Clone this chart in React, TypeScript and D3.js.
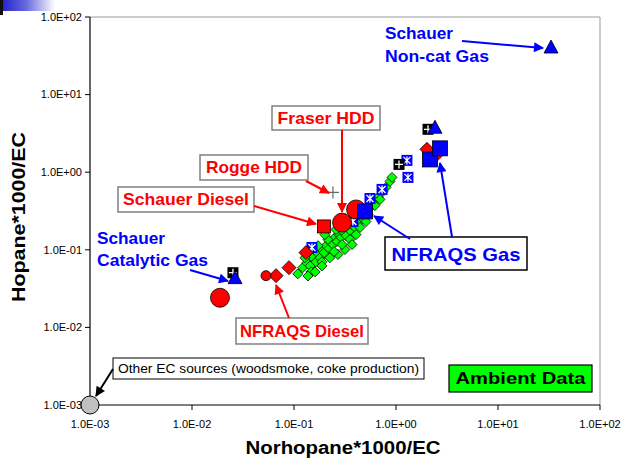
import React from "react";
import * as d3 from "d3";

const W = 625;
const H = 459;

const tickValues = [1e-3, 1e-2, 1e-1, 1e0, 1e1, 1e2];
const tickLabels = ["1.0E-03", "1.0E-02", "1.0E-01", "1.0E+00", "1.0E+01", "1.0E+02"];

// Ambient samples (norhopane, hopane), per 1000 EC
const ambientData: [number, number][] = [
  [0.109, 0.049], [0.122, 0.059], [0.134, 0.068], [0.144, 0.062], [0.153, 0.079],
  [0.164, 0.070], [0.172, 0.089], [0.180, 0.079], [0.188, 0.10], [0.197, 0.092],
  [0.206, 0.113], [0.220, 0.104], [0.225, 0.128], [0.241, 0.117], [0.252, 0.144],
  [0.264, 0.128], [0.276, 0.157], [0.289, 0.144], [0.302, 0.172], [0.324, 0.152],
  [0.338, 0.194], [0.354, 0.177], [0.371, 0.212], [0.396, 0.194], [0.406, 0.245],
  [0.424, 0.218], [0.454, 0.277], [0.474, 0.253], [0.497, 0.312], [0.531, 0.285],
  [0.556, 0.351], [0.582, 0.407], [0.622, 0.372], [0.667, 0.472], [0.697, 0.446],
  [0.746, 0.565], [0.798, 0.637], [0.873, 0.760], [0.914, 0.857], [0.258, 0.182],
  [0.316, 0.231], [0.215, 0.136], [0.172, 0.113], [0.128, 0.079], [0.147, 0.052],
  [0.188, 0.070], [0.316, 0.101], [0.354, 0.136], [0.270, 0.087], [0.225, 0.079],
  [0.188, 0.062], [0.161, 0.052], [0.137, 0.046], [0.406, 0.157], [0.296, 0.117],
  [0.444, 0.194], [0.201, 0.157], [0.247, 0.095], [0.371, 0.117], [0.508, 0.231],
];

// Source profiles
const nfraqsDiesel: [number, number][] = [
  [0.0667, 0.0464], [0.0893, 0.0589], [0.131, 0.092], [2.01, 1.97], [2.52, 1.70],
];
const nfraqsGasStar: [number, number][] = [
  [0.150, 0.107], [0.378, 0.231], [0.556, 0.458], [0.730, 0.600], [1.28, 1.42], [1.31, 0.857],
];
const nfraqsGas: [number, number][] = [[0.497, 0.312], [2.15, 1.46], [2.70, 2.03]];
const dieselCircles: [number, number][] = [[0.0188, 0.0241], [0.296, 0.224], [0.406, 0.331]];
const smallDieselCircles: [number, number][] = [[0.0531, 0.0464]];
const schauerDiesel: [number, number][] = [[0.197, 0.200]];
const gasPlus: [number, number][] = [[0.0252, 0.0507], [1.07, 1.26], [2.06, 3.57]];
const schauerGas: [number, number][] = [[0.0264, 0.0425], [2.41, 3.68], [33.1, 39.8]];
const roggeHDD: [number, number][] = [[0.241, 0.548]];
const otherEC: [number, number][] = [[0.001, 0.001]];

const FONT = "'Liberation Sans', Arial, sans-serif";
const RED = "#ff0000";
const BLUE = "#0000ff";

export default function App() {
  const x = d3.scaleLog().domain([1e-3, 1e2]).range([90, 600]);
  const y = d3.scaleLog().domain([1e-3, 1e2]).range([405, 17]);

  const arrow = (x1: number, y1: number, x2: number, y2: number, color: string, id: string) => (
    <line x1={x1} y1={y1} x2={x2} y2={y2} stroke={color} strokeWidth={2} markerEnd={`url(#${id})`} />
  );

  const boldText = (
    tx: number, ty: number, s: string, color: string, size: number, len: number, anchor = "start"
  ) => (
    <text x={tx} y={ty} fill={color} fontFamily={FONT} fontWeight="bold" fontSize={size}
      textAnchor={anchor} textLength={len} lengthAdjust="spacingAndGlyphs">{s}</text>
  );

  const diamond = (cx: number, cy: number, r: number) =>
    `M${cx},${cy - r}L${cx + r},${cy}L${cx},${cy + r}L${cx - r},${cy}Z`;

  return (
    <svg width={W} height={H} style={{ position: "fixed", left: 0, top: 0, background: "#fff" }}>
      <defs>
        <linearGradient id="corner" x1="0" x2="1" y1="0" y2="0">
          <stop offset="0" stopColor="#2626cc" />
          <stop offset="0.45" stopColor="#6a6ae0" />
          <stop offset="1" stopColor="#ffffff" />
        </linearGradient>
        {[["ahRed", RED], ["ahBlue", BLUE], ["ahBlack", "#000"]].map(([id, c]) => (
          <marker key={id} id={id} viewBox="0 0 10 10" refX="9" refY="5" markerWidth="11" markerHeight="10"
            markerUnits="userSpaceOnUse" orient="auto">
            <path d="M0,0L10,5L0,10Z" fill={c} />
          </marker>
        ))}
      </defs>

      {/* corner ornament */}
      <rect x={3} y={0} width={52} height={11} fill="url(#corner)" />
      <rect x={0} y={0} width={3} height={15} fill="#111" />

      {/* plot frame */}
      <line x1={90} y1={17} x2={600} y2={17} stroke="#999" strokeWidth={1} />
      <line x1={600} y1={17} x2={600} y2={405} stroke="#999" strokeWidth={1} />
      <line x1={90} y1={17} x2={90} y2={405} stroke="#000" strokeWidth={1.2} />
      <line x1={90} y1={405} x2={600} y2={405} stroke="#000" strokeWidth={1.2} />

      {/* y axis ticks */}
      {tickValues.map((v, i) => (
        <g key={`y${i}`}>
          <line x1={85} x2={90} y1={y(v)} y2={y(v)} stroke="#000" />
          <text x={82} y={y(v)} dy="0.35em" textAnchor="end" fontFamily={FONT} fontSize={11} fill="#000">
            {tickLabels[i]}
          </text>
        </g>
      ))}
      {/* x axis ticks */}
      {tickValues.map((v, i) => (
        <g key={`x${i}`}>
          <line x1={x(v)} x2={x(v)} y1={405} y2={410} stroke="#000" />
          <text x={x(v)} y={428} textAnchor="middle" fontFamily={FONT} fontSize={11} fill="#000">
            {tickLabels[i]}
          </text>
        </g>
      ))}

      {/* axis titles */}
      <text x={343} y={454} textAnchor="middle" fontFamily={FONT} fontWeight="bold" fontSize={18}
        textLength={195} lengthAdjust="spacingAndGlyphs">Norhopane*1000/EC</text>
      <text transform="translate(25,217) rotate(-90)" textAnchor="middle" fontFamily={FONT} fontWeight="bold"
        fontSize={18} textLength={170} lengthAdjust="spacingAndGlyphs">Hopane*1000/EC</text>

      {/* ambient data */}
      {ambientData.map(([a, b], i) => (
        <path key={`g${i}`} d={diamond(x(a), y(b), 5)} fill="#00ff00" stroke="#000" strokeWidth={0.8} />
      ))}

      {/* Rogge HDD */}
      {roggeHDD.map(([a, b], i) => (
        <path key={`rg${i}`} d={`M${x(a) - 6},${y(b)}H${x(a) + 6}M${x(a)},${y(b) - 6}V${y(b) + 6}`}
          stroke="#666" strokeWidth={1.2} fill="none" />
      ))}

      {/* NFRAQS gas, starred squares */}
      {nfraqsGasStar.map(([a, b], i) => {
        const cx = x(a), cy = y(b);
        return (
          <g key={`bs${i}`}>
            <rect x={cx - 5.5} y={cy - 5.5} width={11} height={11} fill={BLUE} />
            <path d={`M${cx - 3.5},${cy - 3.5}L${cx + 3.5},${cy + 3.5}M${cx - 3.5},${cy + 3.5}L${cx + 3.5},${cy - 3.5}M${cx},${cy - 4}V${cy + 4}`}
              stroke="#fff" strokeWidth={1.3} />
          </g>
        );
      })}

      {/* NFRAQS diesel */}
      {nfraqsDiesel.map(([a, b], i) => (
        <path key={`rd${i}`} d={diamond(x(a), y(b), 7)} fill={RED} stroke="#000" strokeWidth={0.8} />
      ))}
      {smallDieselCircles.map(([a, b], i) => (
        <circle key={`rc${i}`} cx={x(a)} cy={y(b)} r={5} fill={RED} stroke="#000" strokeWidth={0.8} />
      ))}

      {/* Schauer diesel */}
      {schauerDiesel.map(([a, b], i) => (
        <rect key={`rs${i}`} x={x(a) - 6.5} y={y(b) - 6.5} width={13} height={13} fill={RED} stroke="#000" strokeWidth={0.8} />
      ))}

      {/* diesel circles */}
      {dieselCircles.map(([a, b], i) => (
        <circle key={`rl${i}`} cx={x(a)} cy={y(b)} r={9.5} fill={RED} stroke="#000" strokeWidth={0.8} />
      ))}

      {/* NFRAQS gas squares */}
      {nfraqsGas.map(([a, b], i) => (
        <rect key={`bq${i}`} x={x(a) - 7.5} y={y(b) - 7.5} width={15} height={15} fill={BLUE} stroke="#000" strokeWidth={0.8} />
      ))}

      {/* gas, black plus squares */}
      {gasPlus.map(([a, b], i) => {
        const cx = x(a), cy = y(b);
        return (
          <g key={`kp${i}`}>
            <rect x={cx - 5.5} y={cy - 5.5} width={11} height={11} fill="#000" />
            <path d={`M${cx - 4},${cy}H${cx + 4}M${cx},${cy - 4}V${cy + 4}`} stroke="#fff" strokeWidth={1.3} />
          </g>
        );
      })}

      {/* Schauer gas triangles */}
      {schauerGas.map(([a, b], i) => {
        const cx = x(a), cy = y(b);
        return (
          <path key={`bt${i}`} d={`M${cx},${cy - 8}L${cx + 7},${cy + 5}L${cx - 7},${cy + 5}Z`}
            fill={BLUE} stroke="#000" strokeWidth={0.8} />
        );
      })}

      {/* other EC sources */}
      {otherEC.map(([a, b], i) => (
        <circle key={`oe${i}`} cx={x(a)} cy={y(b)} r={9} fill="#c0c0c0" stroke="#000" strokeWidth={1} />
      ))}

      {/* annotations */}
      {boldText(385, 39, "Schauer", BLUE, 17, 68)}
      {boldText(385, 62, "Non-cat Gas", BLUE, 17, 104)}
      {arrow(462, 41, 543, 48, BLUE, "ahBlue")}

      <rect x={272} y={106} width={108} height={24} fill="#fff" stroke="#808080" strokeWidth={1.5} />
      {boldText(326, 124, "Fraser HDD", RED, 17, 97, "middle")}
      {arrow(342, 130, 342, 212, RED, "ahRed")}

      <rect x={200} y={155} width={108} height={25} fill="#fff" stroke="#808080" strokeWidth={1.5} />
      {boldText(254, 173, "Rogge HDD", RED, 17, 96, "middle")}
      {arrow(306, 181, 329, 193, RED, "ahRed")}

      <rect x={118} y={187} width={136} height={25} fill="#fff" stroke="#808080" strokeWidth={1.5} />
      {boldText(186, 205, "Schauer Diesel", RED, 17, 126, "middle")}
      {arrow(254, 206, 316, 224, RED, "ahRed")}

      {boldText(97, 244, "Schauer", BLUE, 17, 68)}
      {boldText(97, 266, "Catalytic Gas", BLUE, 17, 111)}
      {arrow(190, 270, 228, 281, BLUE, "ahBlue")}

      <rect x={236} y={318} width={132} height={26} fill="#fff" stroke="#808080" strokeWidth={1.5} />
      {boldText(302, 337, "NFRAQS Diesel", RED, 17, 124, "middle")}
      {arrow(289, 318, 276, 285, RED, "ahRed")}

      <rect x={385} y={237} width={142} height={33} fill="#fff" stroke="#000" strokeWidth={1.5} />
      {boldText(456, 261, "NFRAQS Gas", BLUE, 19, 129, "middle")}
      {arrow(410, 239, 374, 216, BLUE, "ahBlue")}
      {arrow(452, 237, 440, 163, BLUE, "ahBlue")}

      <rect x={449} y={365} width={143} height={27} fill="#00ff00" stroke="#000" strokeWidth={1.2} />
      {boldText(520.5, 384, "Ambient Data", "#000", 17, 130, "middle")}

      <rect x={113} y={358} width={311} height={21} fill="#fff" stroke="#000" strokeWidth={1} />
      <text x={118} y={373} fontFamily={FONT} fontSize={12} fill="#000" textLength={301}
        lengthAdjust="spacingAndGlyphs">Other EC sources (woodsmoke, coke production)</text>
      {arrow(113, 369, 96, 396, "#000", "ahBlack")}
    </svg>
  );
}
